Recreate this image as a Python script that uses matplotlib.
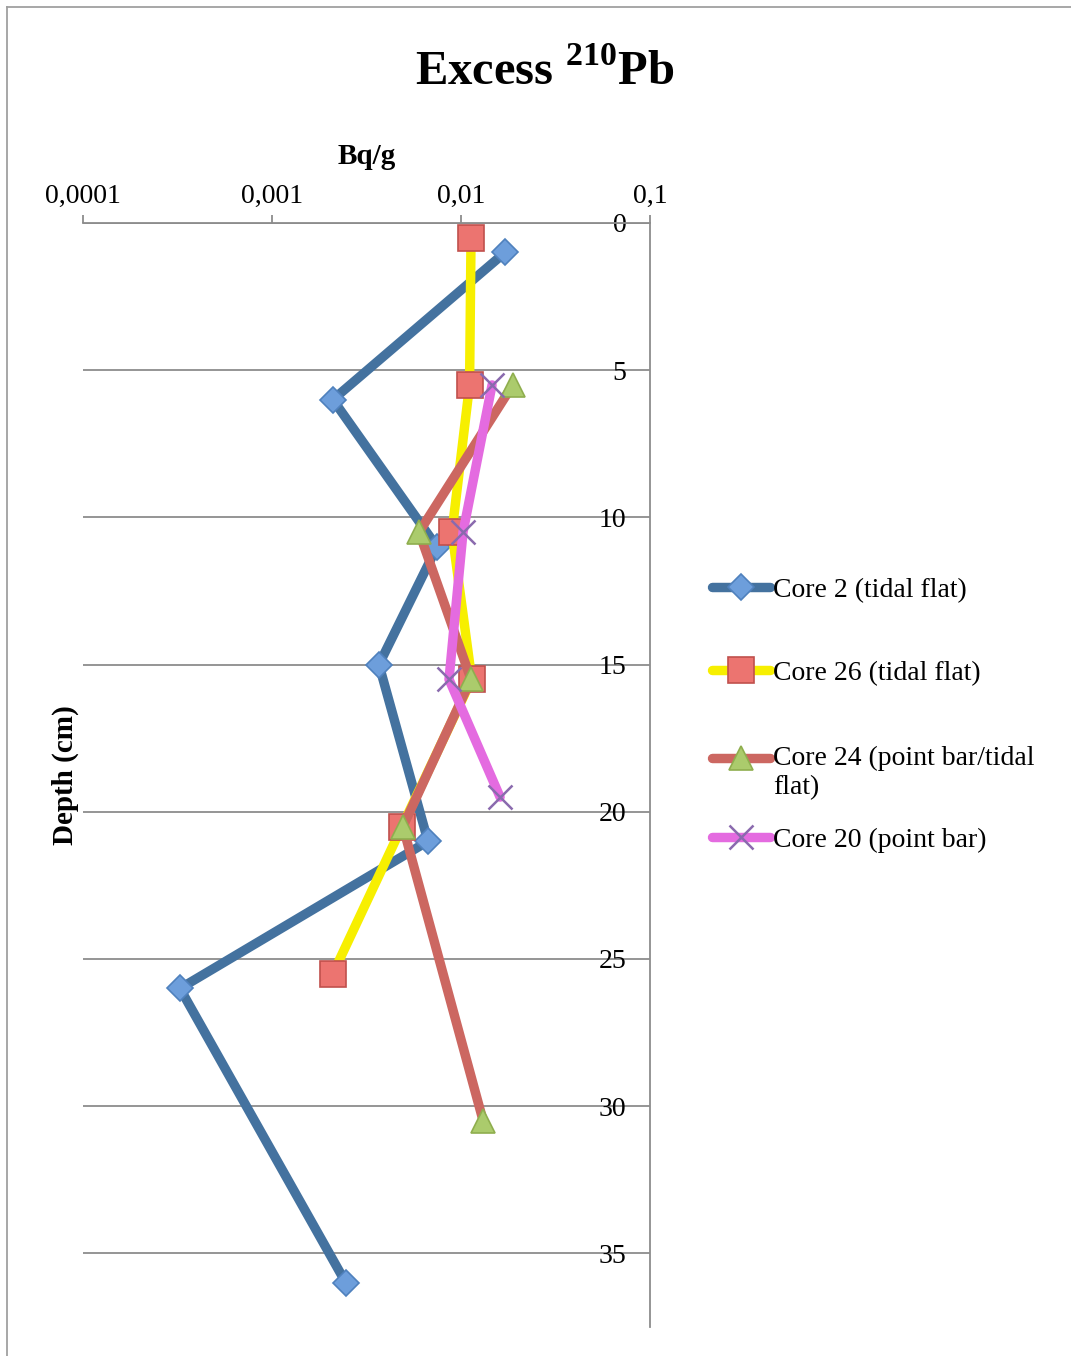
import matplotlib
matplotlib.use("Agg")
import matplotlib.pyplot as plt
from matplotlib.lines import Line2D
from matplotlib.ticker import NullLocator

plt.rcParams['font.family'] = ['Liberation Serif', 'DejaVu Serif']
plt.rcParams['mathtext.fontset'] = 'custom'
plt.rcParams['mathtext.rm'] = 'Liberation Serif'
plt.rcParams['mathtext.bf'] = 'Liberation Serif:bold'

# Excess 210Pb activity (Bq/g) against depth (cm) for each core
series_names = ["Core 2 (tidal flat)", "Core 26 (tidal flat)",
                "Core 24 (point bar/tidal\nflat)", "Core 20 (point bar)"]

core2_depth = [1, 6, 11, 15, 21, 26, 36]
core2_activity = [0.0171, 0.0021, 0.00746, 0.00368, 0.00669, 0.000326, 0.00246]

core26_depth = [0.5, 5.5, 10.5, 15.5, 20.5, 25.5]
core26_activity = [0.0113, 0.0111, 0.00896, 0.0114, 0.00487, 0.0021]

core24_depth = [5.5, 10.5, 15.5, 20.5, 30.5]
core24_activity = [0.0188, 0.0060, 0.0113, 0.00493, 0.0131]

core20_depth = [5.5, 10.5, 15.5, 19.5]
core20_activity = [0.0146, 0.01025, 0.00864, 0.0161]

depth_ticks = [0, 5, 10, 15, 20, 25, 30, 35]
activity_ticks = [0.0001, 0.001, 0.01, 0.1]
activity_tick_labels = ["0,0001", "0,001", "0,01", "0,1"]

W, H = 1071, 1356
fig = plt.figure(figsize=(W / 100, H / 100), dpi=100)

# thin outer chart frame (top and left edges)
frame_col = '#a0a0a0'
fig.add_artist(Line2D([7 / W, 1.0], [1 - 7 / H, 1 - 7 / H], color=frame_col, lw=1.3,
                      transform=fig.transFigure))
fig.add_artist(Line2D([7 / W, 7 / W], [0.0, 1 - 7 / H], color=frame_col, lw=1.3,
                      transform=fig.transFigure))

ax = fig.add_axes([83 / W, 1 - 1327 / H, 567 / W, 1104 / H])
ax.set_xscale('log')
ax.set_xlim(0.0001, 0.1)
ax.set_ylim(37.5, 0)

styles = [
    dict(color='#44729F', marker='D', markersize=13, markerfacecolor='#6D9EDB',
         markeredgecolor='#4F81BD', markeredgewidth=1.2),
    dict(color='#F7EF00', marker='s', markersize=18.5, markerfacecolor='#EC7470',
         markeredgecolor='#C0504D', markeredgewidth=1.2),
    dict(color='#CC6761', marker='^', markersize=17, markerfacecolor='#ABCB6C',
         markeredgecolor='#8FAE4E', markeredgewidth=1.2),
    dict(color='#E46BE0', marker='x', markersize=17, markeredgecolor='#8A6AAE',
         markeredgewidth=1.8),
]

series = [(core2_activity, core2_depth), (core26_activity, core26_depth),
          (core24_activity, core24_depth), (core20_activity, core20_depth)]

lines = []
for (xv, yv), st in zip(series, styles):
    ln, = ax.plot(xv, yv, lw=6.8, solid_capstyle='round', solid_joinstyle='round', **st)
    lines.append(ln)

# axes styling
grid_col = '#8c8c8c'
for side in ('left', 'bottom'):
    ax.spines[side].set_visible(False)
for side in ('top', 'right'):
    ax.spines[side].set_color(grid_col)
    ax.spines[side].set_linewidth(1.3)

ax.xaxis.tick_top()
ax.xaxis.set_label_position('top')
ax.set_xticks(activity_ticks, activity_tick_labels)
ax.xaxis.set_minor_locator(NullLocator())
ax.tick_params(axis='x', which='major', direction='out', length=5.5, width=1.3,
               color=grid_col, labelsize=20, pad=5)

ax.yaxis.tick_right()
ax.set_yticks(depth_ticks)
ax.tick_params(axis='y', length=0, labelsize=20, pad=-17)
for lbl in ax.get_yticklabels():
    lbl.set_horizontalalignment('right')
    lbl.set_verticalalignment('center_baseline')

ax.yaxis.grid(True, color=grid_col, lw=1.3)
ax.set_axisbelow(True)

ax.set_xlabel('Bq/g', fontsize=21, fontweight='bold', labelpad=14)
ax.set_ylabel('Depth (cm)', fontsize=21, fontweight='bold', labelpad=3)

fig.text(545 / W, 1 - 85 / H, r'Excess $^{\mathbf{210}}$Pb', ha='center', va='baseline',
         fontsize=35, fontweight='bold')

# legend: one entry per block, stacked on the right
legend_y = [590, 673, 773, 840]
for i, (ln, name) in enumerate(zip(lines, series_names)):
    multiline = '\n' in name
    leg = fig.legend([ln], [name], loc='center left',
                     bbox_to_anchor=(712 / W, 1 - legend_y[i] / H),
                     frameon=False, borderpad=0, borderaxespad=0, fontsize=20,
                     handlelength=2.1, handletextpad=0.1,
                     handleheight=1.3 if multiline else 0.7)
    if multiline:
        leg._legend_handle_box.get_children()[0].get_children()[0].align = 'top'

fig.savefig('out.png', dpi=100)
